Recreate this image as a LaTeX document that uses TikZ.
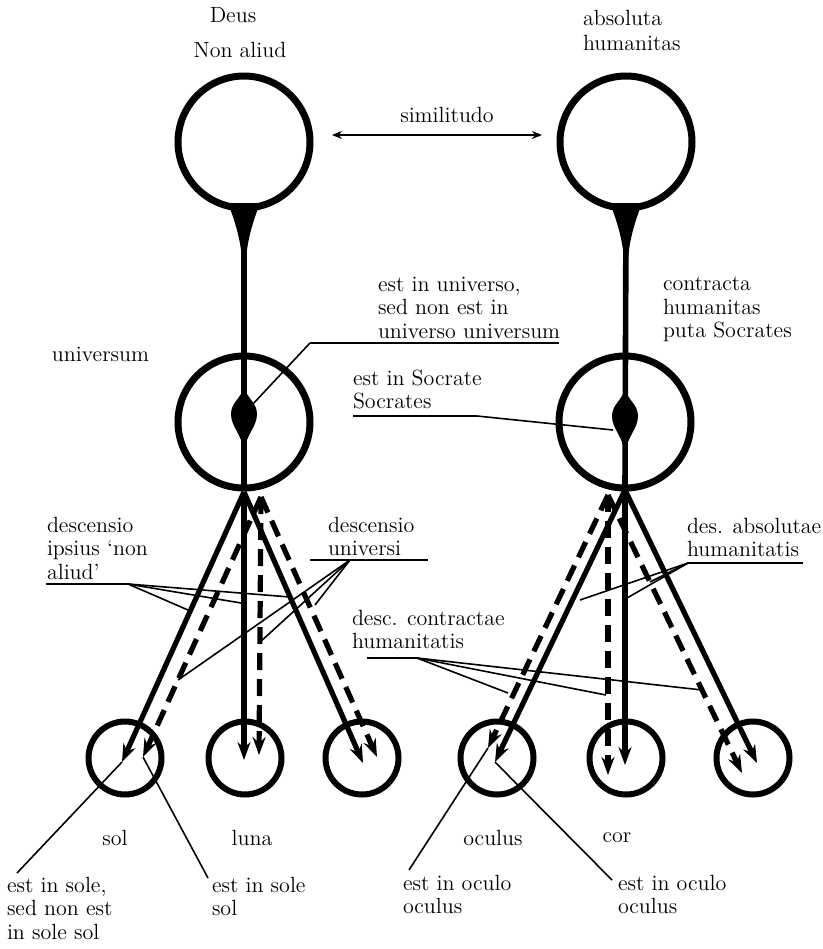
\documentclass[tikz,border=0pt]{standalone}
\usetikzlibrary{arrows.meta,calc}
\begin{document}
\begin{tikzpicture}[x=0.5pt,y=-0.5pt,
  txt/.style={font=\fontsize{11}{11.75}\selectfont, inner sep=0pt, outer sep=0pt},
  ltxt/.style={txt, align=left, anchor=north west},
  ctxt/.style={txt, anchor=center},
  bigc/.style={circle, draw, line width=3.5pt, minimum size=66pt, inner sep=0pt, outer sep=0pt},
  smallc/.style={circle, draw, line width=3pt, minimum size=36.5pt, inner sep=0pt, outer sep=0pt},
  solidarr/.style={line width=2.6pt, -{Stealth[length=9pt,width=6.5pt,inset=3pt]}},
  dasharr/.style={solidarr, dash pattern=on 8.5pt off 4.5pt},
  leader/.style={line width=0.8pt},
  uline/.style={line width=1.1pt},
  stemline/.style={line width=2.8pt},
  simarr/.style={line width=1pt, {Stealth[length=5pt,width=4pt]}-{Stealth[length=5pt,width=4pt]}},
]
\path[use as bounding box] (0,0) rectangle (823,949);

% ---------- big circles ----------
\node[bigc] (G) at (244,142) {};
\node[bigc] (A) at (626,142) {};
\node[bigc] (U) at (244,422) {};
\node[bigc] (S) at (625,422) {};

% ---------- small circles ----------
\node[smallc] (sol)  at (125,758) {};
\node[smallc] (luna) at (245,758) {};
\node[smallc] (c3)   at (362,758) {};
\node[smallc] (ocu)  at (497,758) {};
\node[smallc] (cor)  at (626,758) {};
\node[smallc] (c6)   at (753,758) {};

% ---------- stems ----------
\draw[stemline] (G.south) -- (U.south);
\draw[stemline] (A.south) -- (S.south);
\foreach \cx in {244,626}{
  \fill[shift={(\cx,203)}] (-16,0) .. controls (-10,16) and (-3,36) .. (-2,58)
     -- (2,58) .. controls (3,36) and (10,16) .. (16,0) -- cycle;
}
% lenses
\fill (244,386) .. controls (246,398) and (257,402) .. (257,414)
   .. controls (257,427) and (246,434) .. (244,452)
   .. controls (242,434) and (231,427) .. (231,414)
   .. controls (231,402) and (242,398) .. cycle;
\fill[shift={(381,2)}] (244,386) .. controls (246,398) and (257,402) .. (257,414)
   .. controls (257,427) and (246,434) .. (244,452)
   .. controls (242,434) and (231,427) .. (231,414)
   .. controls (231,402) and (242,398) .. cycle;

% ---------- arrow start / tip coordinates ----------
\coordinate (Us) at (244,492);
\coordinate (Ud) at (261,497);
\coordinate (Ss) at (625,490);
\coordinate (Sd) at (608,495);
\coordinate (solS) at (122,762);  \coordinate (solD) at (143,757);
\coordinate (lunaS) at (244,760); \coordinate (lunaD) at (259,755);
\coordinate (c3S) at (363,763);   \coordinate (c3D) at (377,757);
\coordinate (ocuS) at (495,762);  \coordinate (ocuD) at (488,748);
\coordinate (corS) at (625,765);  \coordinate (corD) at (608,775);
\coordinate (c6S) at (757,763);   \coordinate (c6D) at (742,773);

% ---------- descent arrows ----------
\draw[solidarr] (Us) -- (solS);
\draw[solidarr] (Us) -- (lunaS);
\draw[solidarr] (Us) -- (c3S);
\draw[dasharr] (Ud) -- (solD);
\draw[dasharr] (Ud) -- (lunaD);
\draw[dasharr] (Ud) -- (c3D);
\draw[solidarr] (Ss) -- (ocuS);
\draw[solidarr] (Ss) -- (corS);
\draw[solidarr] (Ss) -- (c6S);
\draw[dasharr] (Sd) -- (ocuD);
\draw[dasharr] (Sd) -- (corD);
\draw[dasharr] (Sd) -- (c6D);

% ---------- similitudo ----------
\coordinate (simL) at (332,135);
\coordinate (simR) at (542,135);
\draw[simarr] (simL) -- (simR);
\node[ctxt] (simT) at (447,115) {similitudo};

% ---------- top labels ----------
\node[ctxt] (deus) at (233,15) {Deus};
\node[ctxt] (nonaliud) at (240,50) {Non aliud};
\node[ltxt, font=\fontsize{11}{12.5}\selectfont] (absh) at (583,10) {absoluta\\humanitas};

% ---------- middle labels ----------
\node[ltxt] (univ) at (52,347) {universum};
\node[ltxt] (estuniv) at (378,277) {est in universo,\\sed non est in\\universo universum};
\draw[uline] (559,343) -- (310,343);
\draw[leader] (310,343) -- (252,405);

\node[ltxt] (estsoc) at (353,370) {est in Socrate\\Socrates};
\draw[uline] (353,416) -- (477,416);
\draw[leader] (477,416) -- (613,430);

\node[ltxt] (contr) at (663,277) {contracta\\humanitas\\puta Socrates};

% ---------- descent labels ----------
\node[ltxt] (descna) at (47,517) {descensio\\ipsius `non\\aliud'};
\coordinate (descnaP) at (128,584);
\draw[uline] (46,584) -- (descnaP);
\draw[leader] (descnaP) -- (188,610);
\draw[leader] (descnaP) -- (241,603);
\draw[leader] (descnaP) -- (290,597);

\node[ltxt] (descun) at (328,517) {descensio\\universi};
\coordinate (descunP) at (350,560);
\draw[uline] (310,560) -- (428,560);
\draw[leader] (descunP) -- (178,680);
\draw[leader] (descunP) -- (259,643);
\draw[leader] (descunP) -- (315,605);

\node[ltxt] (descch) at (352,610) {desc. contractae\\humanitatis};
\coordinate (descchP) at (417,658);
\draw[uline] (367,658) -- (descchP);
\draw[leader] (descchP) -- (508,693);
\draw[leader] (descchP) -- (606,695);
\draw[leader] (descchP) -- (702,690);

\node[ltxt] (desah) at (687,518) {des. absolutae\\humanitatis};
\coordinate (desahP) at (688,563);
\draw[uline] (desahP) -- (803,563);
\draw[leader] (desahP) -- (580,600);
\draw[leader] (desahP) -- (627,598);
\draw[leader] (desahP) -- (650,582);

% ---------- bottom labels ----------
\node[ctxt] (tsol) at (115,838) {sol};
\node[ctxt] (tluna) at (252,838) {luna};
\node[ctxt] (tocu) at (493,838) {oculus};
\node[ctxt] (tcor) at (617,838) {cor};

\node[ltxt] (b1) at (7,877) {est in sole,\\sed non est\\in sole sol};
\node[ltxt] (b2) at (212,877) {est in sole\\sol};
\node[ltxt] (b3) at (403,875) {est in oculo\\oculus};
\node[ltxt] (b4) at (618,875) {est in oculo\\oculus};

\draw[leader] (17,873) -- (solS);
\draw[leader] (208,878) -- (solD);
\draw[leader] (409,870) -- (ocuD);
\draw[leader] (612,880) -- (ocuS);
\end{tikzpicture}
\end{document}
